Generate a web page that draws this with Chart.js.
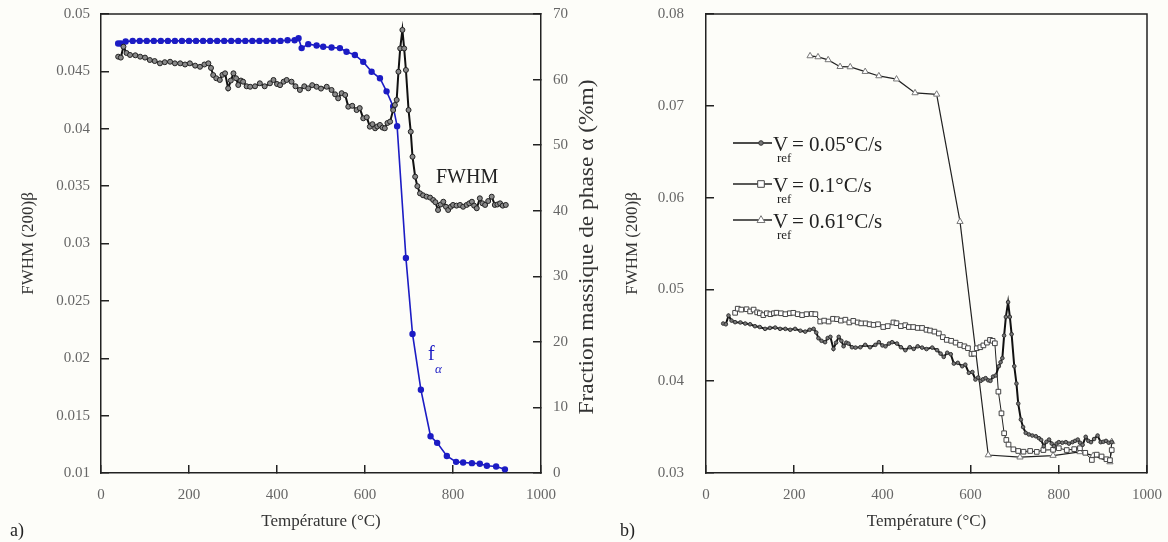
<!DOCTYPE html>
<html lang="fr">
<head>
  <meta charset="UTF-8" />
  <title>FWHM (200)β et fraction massique de phase α</title>
  <script src="https://cdn.jsdelivr.net/npm/chart.js"></script>
  <style>
    body { margin: 0; background-color: #fdfdf9; width: 1168px; height: 542px; position: relative; overflow: hidden; }
    .panel { position: absolute; top: 0; height: 542px; }
    #panelA { left: 0; width: 620px; }
    #panelB { left: 620px; width: 548px; }
  </style>
</head>
<body>
  <div class="panel" id="panelA"><canvas id="chartA" width="620" height="542"></canvas></div>
  <div class="panel" id="panelB"><canvas id="chartB" width="548" height="542"></canvas></div>

  <script>
    // FWHM (200)beta, Vref = 0.05 C/s  (panel a and b)
    const tempSlow = [39, 45, 51, 58, 66, 78, 89, 100, 111, 122, 134, 145, 157, 168, 180, 191, 202, 214, 225, 235,
      244, 250, 255, 262, 270, 276, 282, 289, 295, 301, 307, 312, 318, 323, 331, 339, 350, 361, 372, 384,
      392, 400, 407, 415, 422, 433, 442, 452, 462, 471, 480, 490, 500, 513, 524, 532, 539, 547, 555, 562,
      571, 581, 588, 596, 604, 611, 617, 623, 628, 634, 640, 645, 651, 657, 664, 668, 672, 676, 680, 685,
      689, 693, 699, 704, 708, 714, 719, 725, 732, 740, 748, 755, 760, 766, 772, 778, 784, 789, 795, 800,
      808, 816, 823, 831, 837, 843, 848, 854, 861, 867, 873, 880, 888, 895, 901, 907, 913, 920];
    const fwhmSlow = [0.04628, 0.0462, 0.04715, 0.0466, 0.04643, 0.0464, 0.04628, 0.0462, 0.04599, 0.0459, 0.0457, 0.0458, 0.04584, 0.0457, 0.0457, 0.0456, 0.0457, 0.0455, 0.0454, 0.0456,
      0.0457, 0.0453, 0.04468, 0.0444, 0.04425, 0.0447, 0.04483, 0.04352, 0.0442, 0.04483, 0.0444, 0.04381, 0.0442, 0.0441, 0.0437, 0.04366, 0.0437, 0.04396, 0.0437, 0.04396,
      0.04425, 0.0439, 0.0438, 0.0441, 0.04425, 0.0441, 0.0437, 0.04338, 0.0437, 0.04352, 0.0438, 0.04366, 0.0435, 0.04366, 0.04338, 0.043, 0.04265, 0.0431, 0.04294, 0.04192,
      0.042, 0.04163, 0.0418, 0.04091, 0.041, 0.04018, 0.0404, 0.04004, 0.0402, 0.04033, 0.0401, 0.04004, 0.0405, 0.04062, 0.04163, 0.04207, 0.04251, 0.04497, 0.047, 0.04861,
      0.047, 0.04512, 0.04163, 0.03974, 0.03756, 0.03582, 0.035, 0.03437, 0.0342, 0.03408, 0.034, 0.03379, 0.0336, 0.03292, 0.0334, 0.03364, 0.0332, 0.03292, 0.0332, 0.03336,
      0.0333, 0.03336, 0.0332, 0.03336, 0.0335, 0.03364, 0.0333, 0.03307, 0.03394, 0.0335, 0.03336, 0.0337, 0.03408, 0.03336, 0.0334, 0.0335, 0.0333, 0.03336];

    // fraction massique de phase alpha (%m)
    const tempFrac = [39, 45, 56, 72, 88, 104, 120, 136, 152, 168, 184, 200, 216, 232, 248, 264, 280, 296, 312, 328,
      344, 360, 376, 392, 408, 424, 440, 449, 456, 471, 490, 505, 524, 543, 558, 577, 596, 615, 634, 649,
      664, 673, 693, 708, 727, 749, 764, 786, 807, 823, 843, 861, 877, 898, 918];
    const fracAlpha = [65.5, 65.5, 65.8, 65.9, 65.9, 65.9, 65.9, 65.9, 65.9, 65.9, 65.9, 65.9, 65.9, 65.9, 65.9, 65.9, 65.9, 65.9, 65.9, 65.9,
      65.9, 65.9, 65.9, 65.9, 65.9, 66.0, 66.0, 66.3, 64.8, 65.4, 65.2, 65.0, 64.9, 64.8, 64.25, 63.75, 62.7, 61.2, 60.2, 58.2,
      55.9, 52.9, 32.8, 21.2, 12.7, 5.6, 4.6, 2.6, 1.7, 1.6, 1.5, 1.4, 1.1, 1.0, 0.56];

    // Vref = 0.1 C/s
    const tempMid = [66, 72, 80, 92, 100, 108, 116, 122, 130, 138, 146, 154, 160, 170, 180, 190, 198, 208, 218, 228,
      240, 248, 259, 268, 278, 288, 297, 306, 316, 325, 334, 344, 352, 362, 371, 380, 390, 402, 412, 425,
      432, 442, 452, 460, 470, 480, 490, 500, 508, 518, 528, 537, 546, 556, 566, 576, 586, 594, 602, 608,
      614, 622, 629, 637, 644, 650, 655, 663, 670, 676, 681, 686, 697, 708, 720, 735, 750, 765, 787, 800,
      818, 835, 848, 860, 875, 886, 897, 908, 916, 920];
    const fwhmMid = [0.04745, 0.0479, 0.0478, 0.04784, 0.0476, 0.0478, 0.0475, 0.0474, 0.0472, 0.0474, 0.0473, 0.0474, 0.04746, 0.0474, 0.0473, 0.0474, 0.04745, 0.0473, 0.0472, 0.0473,
      0.04733, 0.0473, 0.0465, 0.0466, 0.0465, 0.0468, 0.04676, 0.0466, 0.0467, 0.0464, 0.04657, 0.0464, 0.0463, 0.0463, 0.0462, 0.04613, 0.0462, 0.0459, 0.046, 0.0464,
      0.04632, 0.046, 0.0461, 0.0459, 0.0459, 0.0458, 0.0458, 0.0456, 0.04552, 0.0454, 0.0452, 0.0448, 0.0445, 0.0444, 0.0442, 0.04395, 0.0438, 0.0436, 0.04297, 0.043,
      0.04359, 0.0437, 0.0439, 0.0442, 0.0445, 0.0444, 0.04413, 0.03886, 0.0365, 0.03433, 0.0336, 0.0331, 0.03258, 0.0324, 0.03232, 0.0324, 0.0323, 0.0325, 0.03253, 0.0327,
      0.0325, 0.0326, 0.0327, 0.0322, 0.03142, 0.032, 0.0318, 0.0315, 0.0314, 0.0325];

    // Vref = 0.61 C/s
    const tempFast = [236, 254, 277, 304, 327, 361, 392, 432, 474, 523, 576, 640, 712, 787, 848, 878, 916, 920];
    const fwhmFast = [0.07543, 0.07532, 0.075, 0.07426, 0.07423, 0.07372, 0.07325, 0.0729, 0.0714, 0.07125, 0.05738, 0.03196, 0.03172, 0.0319, 0.0323, 0.0319, 0.0312, 0.0334];

    const xTicks = [0, 200, 400, 600, 800, 1000];
    const yTicksA = [0.01, 0.015, 0.02, 0.025, 0.03, 0.035, 0.04, 0.045, 0.05];
    const fracTicks = [0, 10, 20, 30, 40, 50, 60, 70];
    const yTicksB = [0.03, 0.04, 0.05, 0.06, 0.07, 0.08];

    const serif = '"Liberation Serif", "Times New Roman", serif';
    const blue = '#1c1cc4';
    const pts = (xs, ys) => xs.map((x, i) => ({ x: x, y: ys[i] }));
    const fixTicks = list => scale => { scale.ticks = list.map(v => ({ value: v })); };
    const fmt = v => String(+(+v).toFixed(3));
    const tickFont = { family: serif, size: 15 };
    const titleFont = { family: serif, size: 17 };

    // fixed box size, no extra auto padding from the labels
    const fitTo = (w, h) => s => {
      if (w) s.width = w;
      if (h) s.height = h;
      s.paddingTop = s.paddingBottom = s.paddingLeft = s.paddingRight = 0;
    };

    function axis(list, min, max, extra) {
      return Object.assign({
        type: 'linear', min: min, max: max,
        afterBuildTicks: fixTicks(list),
        border: { color: '#222', width: 1.5 },
        grid: { drawOnChartArea: false, drawTicks: true, tickLength: -8, color: '#222', lineWidth: 1.5 }
      }, extra);
    }

    // frame + free texts, drawn after the datasets
    const decorations = {
      id: 'decorations',
      afterDraw(chart, args, opts) {
        const ctx = chart.ctx, a = chart.chartArea;
        ctx.save();
        ctx.strokeStyle = '#222';
        ctx.lineWidth = 1.5;
        ctx.beginPath();
        ctx.moveTo(a.left, a.top);
        ctx.lineTo(a.right, a.top);
        if (opts.rightLine) ctx.lineTo(a.right, a.bottom);
        ctx.stroke();
        if (opts.draw) opts.draw(ctx, a);
        ctx.restore();
      }
    };

    function text(ctx, s, x, y, size, color, align, style) {
      ctx.font = (style || '') + ' ' + size + 'px ' + serif;
      ctx.fillStyle = color;
      ctx.textAlign = align || 'left';
      ctx.textBaseline = 'alphabetic';
      ctx.fillText(s, x, y);
    }

    // Panel a
    new Chart(document.getElementById('chartA'), {
      type: 'line',
      data: {
        datasets: [
          {
            label: 'FWHM',
            data: pts(tempSlow, fwhmSlow),
            yAxisID: 'y',
            borderColor: '#111',
            borderWidth: 2,
            pointRadius: 2.5,
            pointBackgroundColor: '#8a8a8a',
            pointBorderColor: '#222',
            pointBorderWidth: 1,
            order: 1
          },
          {
            label: 'fα',
            data: pts(tempFrac, fracAlpha),
            yAxisID: 'y1',
            borderColor: blue,
            borderWidth: 1.6,
            pointRadius: 2.4,
            pointBackgroundColor: blue,
            pointBorderColor: blue,
            order: 2
          }
        ]
      },
      options: {
        responsive: false,
        animation: false,
        layout: { padding: { top: 14, left: 0, right: 0, bottom: 0 } },
        plugins: {
          legend: { display: false },
          tooltip: { enabled: false },
          decorations: {
            rightLine: false,
            draw(ctx, a) {
              text(ctx, 'a)', 10, 536, 18, '#222');
              text(ctx, 'FWHM', 436, 183, 20, '#222');
              text(ctx, 'f', 428, 360, 20, blue);
              text(ctx, 'α', 435, 373, 13, blue, 'left', 'italic');
              // right axis title, reading upwards
              const label = 'Fraction massique de phase α (%m)';
              ctx.save();
              ctx.translate(588, 247);
              ctx.rotate(-Math.PI / 2);
              ctx.font = '20px ' + serif;
              ctx.scale(335 / ctx.measureText(label).width, 1);
              ctx.fillStyle = '#333';
              ctx.textAlign = 'center';
              ctx.textBaseline = 'middle';
              ctx.fillText(label, 0, 0);
              ctx.restore();
            }
          }
        },
        scales: {
          x: axis(xTicks, 0, 1000, {
            afterFit: fitTo(0, 69),
            ticks: { color: '#666', font: tickFont, padding: 21, maxRotation: 0, callback: fmt },
            title: { display: true, text: 'Température (°C)', color: '#333', font: titleFont, padding: { top: 0, bottom: 10 } }
          }),
          y: axis(yTicksA, 0.01, 0.05, {
            position: 'left',
            afterFit: fitTo(101, 0),
            ticks: { color: '#666', font: tickFont, padding: 19, callback: fmt },
            title: { display: true, text: 'FWHM (200)β', color: '#333', font: titleFont, padding: { top: 18, bottom: 0 } }
          }),
          y1: axis(fracTicks, 0, 70, {
            position: 'right',
            afterFit: fitTo(79, 0),
            ticks: { color: '#666', font: tickFont, padding: 20, callback: fmt }
          })
        }
      },
      plugins: [decorations]
    });

    // Panel b
    const seriesB = [
      {
        name: '0.05°C/s',
        data: pts(tempSlow, fwhmSlow),
        borderColor: '#111', borderWidth: 2, pointStyle: 'circle', pointRadius: 1.8,
        pointBackgroundColor: '#777', pointBorderColor: '#333', pointBorderWidth: 1
      },
      {
        name: '0.1°C/s',
        data: pts(tempMid, fwhmMid),
        borderColor: '#222', borderWidth: 1, pointStyle: 'rect', pointRadius: 3.3,
        pointBackgroundColor: '#fff', pointBorderColor: '#444', pointBorderWidth: 1
      },
      {
        name: '0.61°C/s',
        data: pts(tempFast, fwhmFast),
        borderColor: '#222', borderWidth: 1.2, pointStyle: 'triangle', pointRadius: 3.6,
        pointBackgroundColor: '#fff', pointBorderColor: '#777', pointBorderWidth: 1
      }
    ];

    function marker(ctx, style, x, y, ds) {
      ctx.fillStyle = ds.pointBackgroundColor;
      ctx.strokeStyle = ds.pointBorderColor;
      ctx.lineWidth = 1;
      ctx.beginPath();
      const r = ds.pointRadius;
      if (style === 'rect') {
        ctx.rect(x - r, y - r, 2 * r, 2 * r);
      } else if (style === 'triangle') {
        ctx.moveTo(x, y - r * 1.2);
        ctx.lineTo(x + r * 1.1, y + r * 0.7);
        ctx.lineTo(x - r * 1.1, y + r * 0.7);
        ctx.closePath();
      } else {
        ctx.arc(x, y, r + 0.5, 0, Math.PI * 2);
      }
      ctx.fill();
      ctx.stroke();
    }

    new Chart(document.getElementById('chartB'), {
      type: 'line',
      data: {
        datasets: seriesB.map(s => Object.assign({ label: 'Vref = ' + s.name }, s))
      },
      options: {
        responsive: false,
        animation: false,
        layout: { padding: { top: 14, left: 0, right: 21, bottom: 0 } },
        plugins: {
          legend: { display: false },
          tooltip: { enabled: false },
          decorations: {
            rightLine: true,
            draw(ctx, a) {
              text(ctx, 'b)', 0, 536, 18, '#222');
              const rows = [151, 192, 228];
              seriesB.forEach((s, i) => {
                const y = rows[i] - 8;
                ctx.strokeStyle = s.borderColor;
                ctx.lineWidth = 1.5;
                ctx.beginPath();
                ctx.moveTo(113, y);
                ctx.lineTo(152, y);
                ctx.stroke();
                marker(ctx, s.pointStyle, 141, y, s);
                text(ctx, 'V', 153, rows[i], 21, '#222');
                text(ctx, 'ref', 157, rows[i] + 11, 13, '#222');
                text(ctx, '= ' + s.name, 172, rows[i], 21, '#222');
              });
            }
          }
        },
        scales: {
          x: axis(xTicks, 0, 1000, {
            afterFit: fitTo(0, 69),
            ticks: { color: '#666', font: tickFont, padding: 21, maxRotation: 0, callback: fmt },
            title: { display: true, text: 'Température (°C)', color: '#333', font: titleFont, padding: { top: 0, bottom: 10 } }
          }),
          y: axis(yTicksB, 0.03, 0.08, {
            position: 'left',
            afterFit: fitTo(86, 0),
            ticks: { color: '#666', font: tickFont, padding: 30, callback: fmt },
            title: { display: true, text: 'FWHM (200)β', color: '#333', font: titleFont, padding: { top: 2, bottom: 0 } }
          })
        }
      },
      plugins: [decorations]
    });
  </script>
</body>
</html>
